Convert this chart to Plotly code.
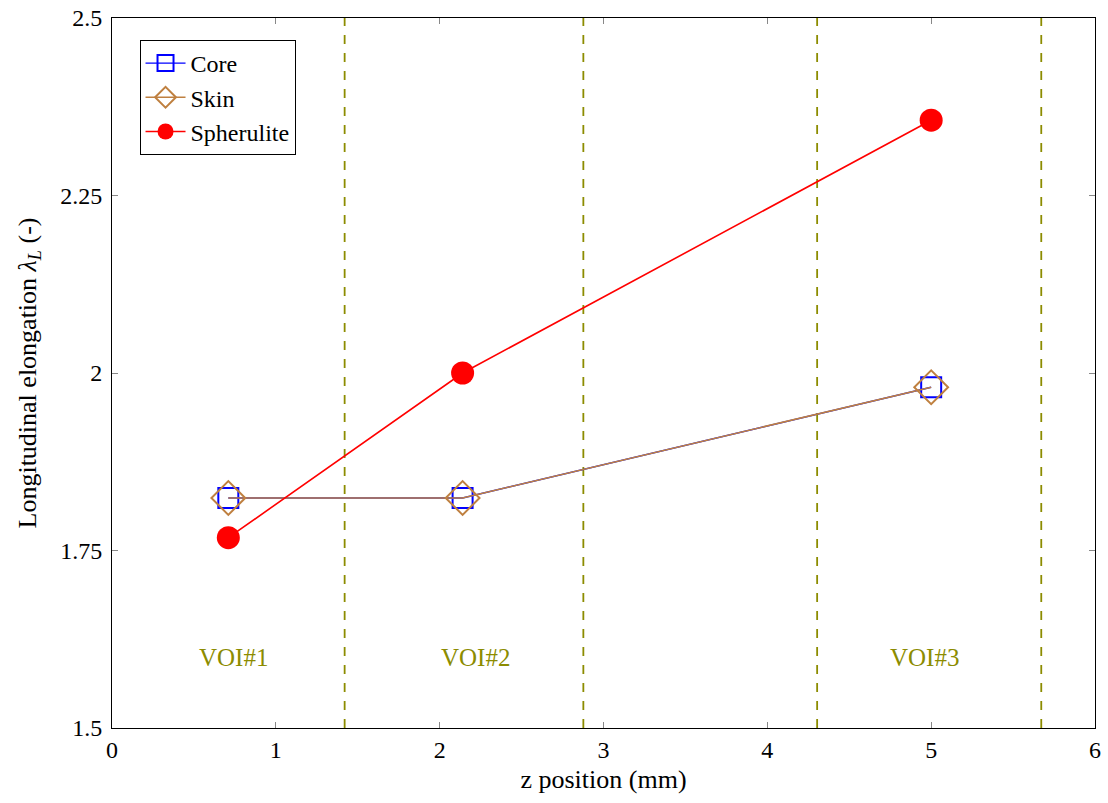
import plotly.graph_objects as go

z_pos = [0.71, 2.14, 5.0]
core = [1.824, 1.824, 1.98]
skin = [1.824, 1.824, 1.98]
spherulite = [1.768, 2.0, 2.356]

voi_bounds = [1.42, 2.877, 4.304, 5.672]
voi_labels = ["VOI#1", "VOI#2", "VOI#3"]
voi_label_x = [0.74, 2.22, 4.96]
voi_label_y = [1.6, 1.6, 1.6]

x_ticks = [0, 1, 2, 3, 4, 5, 6]
y_ticks = [1.5, 1.75, 2.0, 2.25, 2.5]
y_ticklabels = ["1.5", "1.75", "2", "2.25", "2.5"]

OLIVE = "#8c8c00"
FONT = "Liberation Serif"

fig = go.Figure()

fig.add_trace(go.Scatter(
    x=z_pos, y=core, name="Core", mode="lines+markers",
    line=dict(color="#0000ff", width=1.4),
    marker=dict(symbol="square-open", size=20, color="#0000ff", line=dict(width=2)),
))
fig.add_trace(go.Scatter(
    x=z_pos, y=skin, name="Skin", mode="lines+markers",
    line=dict(color="#bf8040", width=1.6),
    marker=dict(symbol="diamond-open", size=26, color="#bf8040", line=dict(width=2)),
))
fig.add_trace(go.Scatter(
    x=z_pos, y=spherulite, name="Spherulite", mode="lines+markers",
    line=dict(color="#ff0000", width=1.6),
    marker=dict(symbol="circle", size=23, color="#ff0000"),
))

for xb in voi_bounds:
    fig.add_shape(type="line", x0=xb, x1=xb, y0=0, y1=1, xref="x", yref="paper",
                  line=dict(color=OLIVE, width=1.8, dash="dash"), layer="below")

for lx, ly, lt in zip(voi_label_x, voi_label_y, voi_labels):
    fig.add_annotation(x=lx, y=ly, text=lt, showarrow=False,
                       font=dict(family=FONT, size=25, color=OLIVE))

fig.update_layout(
    width=1108, height=803,
    margin=dict(l=112, r=13, t=18, b=75),
    plot_bgcolor="white", paper_bgcolor="white",
    font=dict(family=FONT, size=24, color="black"),
    showlegend=True,
    legend=dict(x=0.028, y=0.969, xanchor="left", yanchor="top",
                bordercolor="black", borderwidth=1, bgcolor="white",
                font=dict(family=FONT, size=24), itemwidth=40,
                tracegroupgap=0),
    xaxis=dict(range=[0, 6], tickvals=x_ticks, ticks="inside", ticklen=6,
               tickcolor="#888", showgrid=False, zeroline=False, automargin=False,
               showline=True, linecolor="black", linewidth=1, mirror="ticks",
               tickfont=dict(family=FONT, size=24),
               title=dict(text="z position (mm)", font=dict(family=FONT, size=26), standoff=8)),
    yaxis=dict(range=[1.5, 2.5], tickvals=y_ticks, ticktext=y_ticklabels,
               ticks="inside", ticklen=6, tickcolor="#888", showgrid=False,
               zeroline=False, showline=True, linecolor="black", linewidth=1,
               mirror="ticks", automargin=False, ticklabelstandoff=4,
               tickfont=dict(family=FONT, size=24),
               title=dict(text="Longitudinal elongation <i>λ<sub>L</sub></i> (-)",
                          font=dict(family=FONT, size=26), standoff=16)),
)

fig.write_html("out.html", config={"displayModeBar": False},
               post_script="document.body.style.margin='0px';document.body.style.overflow='hidden';")
